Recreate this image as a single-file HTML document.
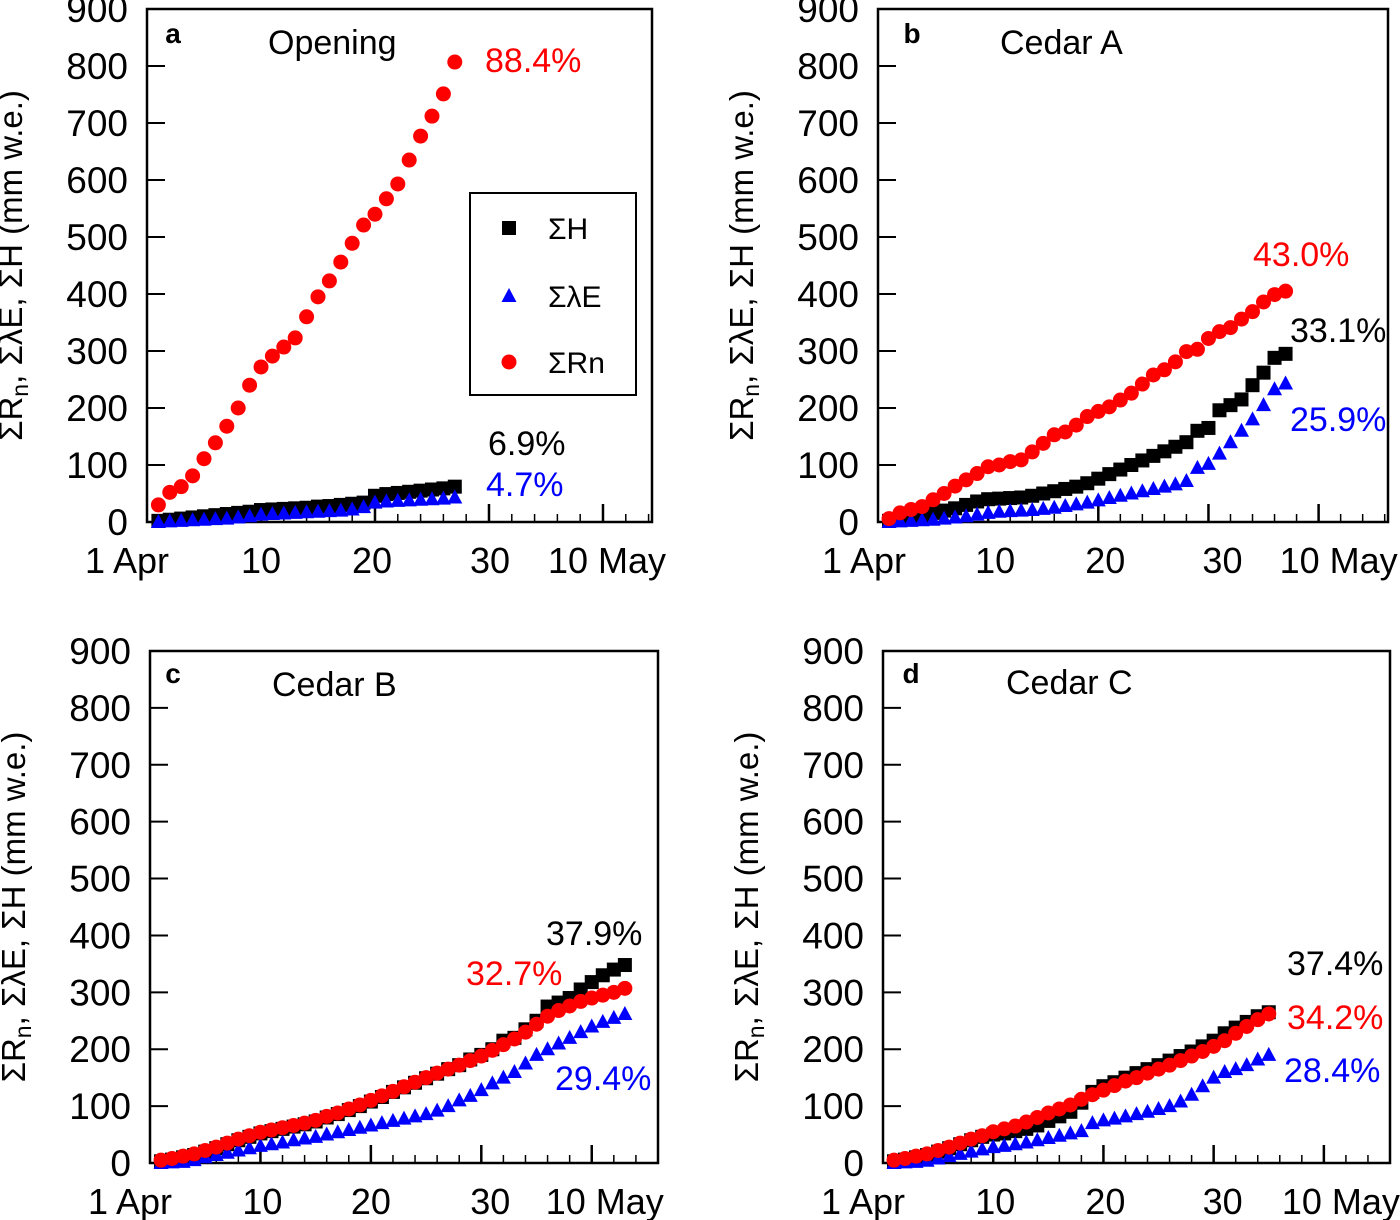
<!DOCTYPE html>
<html><head><meta charset="utf-8"><style>
html,body{margin:0;padding:0;background:#fff;}
svg{display:block;font-family:"Liberation Sans",sans-serif;}
</style></head><body>
<svg id="chart" width="1400" height="1220" viewBox="0 0 1400 1220" xmlns="http://www.w3.org/2000/svg"></svg>
<script>
// ---- data (cumulative mm w.e., one point per day starting 1 Apr) ----
const yTicks = [0,100,200,300,400,500,600,700,800,900];
const xTickDays = [0,10,20,30,40];
const xTickLabels = ["1 Apr","10","20","30","10 May"];

const aH  = [2,4,6,8,10,12,14,16,18,21,22,23,24,25,27,28,30,32,34,46,49,51,53,55,57,59,62];
const aLE = [0,1,2,3,4,5,6,8,10,13,14,15,16,17,18,19,20,22,26,34,36,37,38,39,40,41,43];
const aRn = [30,52,62,81,111,139,168,200,240,272,291,307,323,360,395,423,456,489,521,540,567,593,635,677,712,751,807];

const bH  = [2,5,8,12,16,20,24,30,36,40,41,42,43,46,50,54,58,62,68,76,84,92,100,108,116,124,132,140,160,165,196,205,215,240,262,288,295];
const bLE = [0,1,2,3,4,6,8,10,13,16,18,19,20,21,23,25,28,31,34,38,42,46,50,54,58,62,66,72,95,102,120,140,160,180,205,233,243];
const bRn = [6,16,22,27,39,50,63,74,85,97,100,106,109,123,138,153,158,170,185,194,202,214,226,242,258,267,281,299,303,322,334,341,356,369,386,399,405];

const cH  = [3,6,10,14,20,26,33,40,46,52,56,60,64,68,73,80,86,93,100,108,116,125,133,141,149,157,165,172,182,190,200,215,220,235,250,275,282,290,305,318,330,340,348];
const cLE = [0,1,2,5,10,14,18,22,26,30,33,36,40,43,46,50,54,58,62,66,70,74,78,82,86,92,100,110,118,128,140,150,160,175,190,200,210,220,230,240,248,255,262];
const cRn = [5,8,12,16,22,28,35,42,48,54,58,62,66,70,75,82,88,95,102,110,118,126,134,142,150,158,165,172,180,188,198,208,218,230,244,258,268,276,284,290,295,300,307];

const dH  = [3,6,10,14,20,26,33,40,46,50,52,56,60,66,74,82,90,106,125,135,142,150,158,165,172,180,188,196,205,215,228,238,248,258,265];
const dLE = [0,1,2,4,8,12,16,20,24,28,30,33,36,40,44,48,52,56,70,75,78,82,86,90,95,100,108,120,135,150,160,165,172,182,190];
const dRn = [5,8,12,16,22,28,35,42,48,55,60,65,72,80,88,95,102,112,120,128,136,144,150,158,165,172,180,188,196,205,215,228,240,252,262];

const NS="http://www.w3.org/2000/svg";
const svg=document.getElementById('chart');
function mk(tag,attrs,parent){const e=document.createElementNS(NS,tag);for(const k in attrs)e.setAttribute(k,attrs[k]);(parent||svg).appendChild(e);return e;}
function txt(s,x,y,size,fill,anchor,parent,weight){const t=mk('text',{x:x,y:y,'font-size':size,fill:fill,'text-anchor':anchor||'start','font-weight':weight||'normal'},parent);t.textContent=s;return t;}

const panels=[
 {id:'a',title:'Opening',L:147,T:9,R:652,B:522,xmax:44.3,H:aH,LE:aLE,Rn:aRn,lo:[-20,0,-3,1,4],
  notes:[['88.4%',485,72,'#f00'],['6.9%',488,455,'#000'],['4.7%',486,496,'#00f']],titleX:268,titleY:54,letterX:173,letterY:43,legend:true},
 {id:'b',title:'Cedar A',L:878,T:9,R:1388,B:522,xmax:46.3,H:bH,LE:bLE,Rn:bRn,lo:[-14,7,7,14,20],
  notes:[['43.0%',1253,266,'#f00'],['33.1%',1290,342,'#000'],['25.9%',1290,431,'#00f']],titleX:1000,titleY:54,letterX:912,letterY:43},
 {id:'c',title:'Cedar B',L:150,T:651,R:658,B:1163,xmax:46,H:cH,LE:cLE,Rn:cRn,lo:[-20,2,0,9,13],
  notes:[['37.9%',546,945,'#000'],['32.7%',466,985,'#f00'],['29.4%',555,1090,'#00f']],titleX:272,titleY:696,letterX:173,letterY:683},
 {id:'d',title:'Cedar C',L:883,T:651,R:1390,B:1163,xmax:46,H:dH,LE:dLE,Rn:dRn,lo:[-20,2,2,9,17],
  notes:[['37.4%',1287,975,'#000'],['34.2%',1287,1029,'#f00'],['28.4%',1284,1082,'#00f']],titleX:1006,titleY:694,letterX:911,letterY:683}
];

function square(g,x,y,name){const r=mk('rect',{x:x-7,y:y-7,width:14,height:14,fill:'#000'},g);return r;}
function tri(g,x,y,name){const p=mk('polygon',{points:`${x},${y-8} ${x-7.5},${y+6} ${x+7.5},${y+6}`,fill:'#00f'},g);return p;}
function circ(g,x,y,name){const c=mk('circle',{cx:x,cy:y,r:7.5,fill:'#f00'},g);return c;}

panels.forEach(p=>{
  const g=mk('g',{});
  
  
  const xs=d=>p.L+(p.R-p.L)*d/p.xmax;
  const ys=v=>p.B-(p.B-p.T)*v/900;
  yTicks.forEach(v=>{
    const y=ys(v);
    mk('line',{x1:p.L,x2:p.L+18,y1:y,y2:y,stroke:'#000','stroke-width':2},g);
    const t=txt(String(v),p.L-19,y+13,37,'#000','end',g);
    
    
  });
  for(let d=2;d<p.xmax;d+=2){
    const x=xs(d);
    mk('line',{x1:x,x2:x,y1:p.B,y2:p.B-(d%10===0?18:8),stroke:'#000','stroke-width':d%10===0?2.5:1.5},g);
  }
  xTickDays.forEach((d,i)=>{
    const x=xs(d);
    const t=txt(xTickLabels[i],x+p.lo[i],p.B+51,36,'#000','middle',g);
    
    
  });
  const fr=mk('rect',{x:p.L,y:p.T,width:p.R-p.L,height:p.B-p.T,fill:'none',stroke:'#000','stroke-width':2.5},g);
  
  
  const cy=(p.T+p.B)/2, tx=p.L-125;
  const yt=mk('text',{x:0,y:0,'font-size':33,fill:'#000','text-anchor':'middle',transform:`translate(${tx},${cy}) rotate(-90)`},g);
  
  
  yt.innerHTML='ΣR<tspan font-size="23" dy="6">n</tspan><tspan dy="-6">, ΣλE, ΣH (mm w.e.)</tspan>';
  p.H.forEach((v,i)=>square(g,xs(i+1),ys(v),'sum-h-point'));
  p.LE.forEach((v,i)=>tri(g,xs(i+1),ys(v),'sum-le-point'));
  p.Rn.forEach((v,i)=>circ(g,xs(i+1),ys(v),'sum-rn-point'));
  const lt=txt(p.id,p.letterX,p.letterY,28,'#000','middle',g,'bold');
  
  
  const tt=txt(p.title,p.titleX,p.titleY,34,'#000','start',g);
  
  
  p.notes.forEach(n=>{
    const a=txt(n[0],n[1],n[2],34,n[3],'start',g);
    
    
  });
  if(p.legend){
    const lg=mk('g',{},g);
    
    
    mk('rect',{x:470,y:193,width:166,height:202,fill:'#fff',stroke:'#000','stroke-width':2},lg);
    square(lg,509,228,'legend-marker-h');
    tri(lg,509,296,'legend-marker-le');
    circ(lg,509,362,'legend-marker-rn');
    const e1=txt('ΣH',548,239,30,'#000','start',lg);
    
    
    const e2=txt('ΣλE',548,307,30,'#000','start',lg);
    
    
    const e3=txt('ΣRn',548,373,30,'#000','start',lg);
    
    
  }
});
</script>
</body></html>
